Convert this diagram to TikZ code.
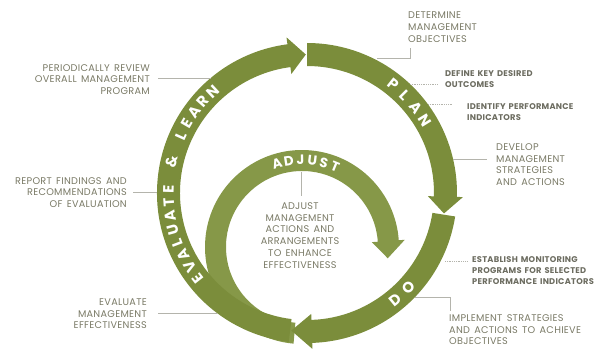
\documentclass[tikz,border=0pt]{standalone}
\usepackage{fontspec}
\setmainfont{Poppins}
\newfontfamily\lblfont{Poppins}[LetterSpace=3, WordSpace=1.5]
\definecolor{ring}{HTML}{7B8D3B}
\definecolor{ringin}{HTML}{869848}
\definecolor{txt}{HTML}{7A7A66}
\definecolor{txtb}{HTML}{6C6C60}
\definecolor{wire}{HTML}{B4B4AC}
\begin{document}
\begin{tikzpicture}[x=1pt, y=1pt,
	lbl/.style={inner sep=0, text=txt, font=\lblfont\fontsize{9.7}{11.7}\selectfont},
	lblb/.style={inner sep=0, text=txtb, font=\lblfont\fontsize{8.3}{11}\selectfont\bfseries},
	wire/.style={draw=wire, line width=0.8pt},
	dots/.style={wire, densely dotted},
	ltr/.style={text=white, inner sep=0, font=\fontsize{15}{15}\selectfont\bfseries}]
	\useasboundingbox (0,0) rectangle (598,349);
	
	\begin{scope}[shift={(302,102)}]
		\fill[ringin] (265:97) arc[start angle=265, end angle=4, radius=97] -- (4:103) -- (-7.5:86.5) -- (4:70) -- (4:76) arc[start angle=4, end angle=265, radius=76] -- cycle;
		\foreach \ch [count=\i from 0] in {A,D,J,U,S,T}
			\node[ltr, font=\fontsize{13.5}{13.5}\selectfont\bfseries, rotate=16.6-\i*7.8] (ad\i) at (106.6-\i*7.8:87) {\ch};
	\end{scope}
	
	\begin{scope}[shift={(307,156)}]
		\fill[ring] (90:150) arc[start angle=90, end angle=-1.5, radius=150] -- (-1.5:156) -- (-8.5:138.5) -- (-1.5:121) -- (-1.5:127) arc[start angle=-1.5, end angle=90, radius=127] -- cycle;
		\fill[ring] (-9:150) arc[start angle=-9, end angle=-88, radius=150] -- (-88:156) -- (-96.5:138.5) -- (-88:121) -- (-88:127) arc[start angle=-88, end angle=-9, radius=127] -- cycle;
		\fill[ring] (263:150) arc[start angle=263, end angle=97.5, radius=150] -- (97.5:157) -- (90.5:138.5) -- (97.5:120) -- (97.5:127) arc[start angle=97.5, end angle=263, radius=127] -- cycle;
		\foreach \ch [count=\i from 0] in {P,L,A,N}
			\node[ltr, rotate=-38.5-\i*6.6] (pl\i) at (51.5-\i*6.6:138.5) {\ch};
		\foreach \ch [count=\i from 0] in {D,O}
			\node[ltr, rotate=39.4+\i*7.6] (do\i) at (-50.6+\i*7.6:138.5) {\ch};
		\foreach \ch [count=\i from 0] in {E,V,A,L,U,A,T,E,{},\&,{},L,E,A,R,N}
			\node[ltr, rotate=128-\i*5.67] (ev\i) at (218-\i*5.67:138.5) {\ch};
	\end{scope}
	
	\node[lbl, anchor=north west, align=left] (obj) at (408,337.3) {DETERMINE\\MANAGEMENT\\OBJECTIVES};
	\node[lblb, anchor=north west, align=left] (kdo) at (445,279) {DEFINE KEY DESIRED\\OUTCOMES};
	\node[lblb, anchor=north west, align=left] (ind) at (467,246) {IDENTIFY PERFORMANCE\\INDICATORS};
	\node[lbl, anchor=north west, align=left] (dev) at (496,205.5) {DEVELOP\\MANAGEMENT\\STRATEGIES\\AND ACTIONS};
	\node[lblb, anchor=north west, align=left] (mon) at (472,93) {ESTABLISH MONITORING\\PROGRAMS FOR SELECTED\\PERFORMANCE INDICATORS};
	\node[lbl, anchor=north west, align=left] (imp) at (449,34.5) {IMPLEMENT STRATEGIES\\AND ACTIONS TO ACHIEVE\\OBJECTIVES};
	\node[lbl, anchor=north east, align=right] (rev) at (150,285) {PERIODICALLY REVIEW\\OVERALL MANAGEMENT\\PROGRAM};
	\node[lbl, anchor=north east, align=right] (rep) at (127,172) {REPORT FINDINGS AND\\RECOMMENDATIONS\\OF EVALUATION};
	\node[lbl, anchor=north east, align=right] (eff) at (147,50.5) {EVALUATE\\MANAGEMENT\\EFFECTIVENESS};
	\node[lbl, anchor=north, align=center] (adj) at (300,146.5) {ADJUST\\MANAGEMENT\\ACTIONS AND\\ARRANGEMENTS\\TO ENHANCE\\EFFECTIVENESS};
	
	\coordinate (r1) at (377,291);
	\coordinate (r2) at (410,265);
	\coordinate (r3) at (428,245);
	\coordinate (r4) at (453,190);
	\coordinate (r5) at (445,88);
	\coordinate (r6) at (415,52);
	\coordinate (r7) at (211,271);
	\coordinate (r8) at (157,157);
	\coordinate (r9) at (217,36);
	\coordinate (r10) at (301,177);
	
	\draw[wire, shorten >=6pt] (r1) -| ([xshift=2pt]obj.south west);
	\draw[wire, shorten >=4pt] (r6) -| ([xshift=1pt]imp.north west);
	\path
	(r2) edge[dots, shorten >=7pt] (r2 -| kdo.west)
	(r3) edge[dots, shorten >=14pt] (r3 -| ind.west)
	(r4) edge[wire, shorten >=9pt] (r4 -| dev.west)
	(r5) edge[dots, shorten >=4pt] (r5 -| mon.west)
	(r7) edge[wire, shorten >=8pt] (r7 -| rev.east)
	(r8) edge[wire, shorten >=6pt] (r8 -| rep.east)
	(r9) edge[wire, shorten >=11pt] (r9 -| eff.east)
	(r10) edge[wire, shorten >=7pt] (r10 |- adj.north)
	;
\end{tikzpicture}
\end{document}
